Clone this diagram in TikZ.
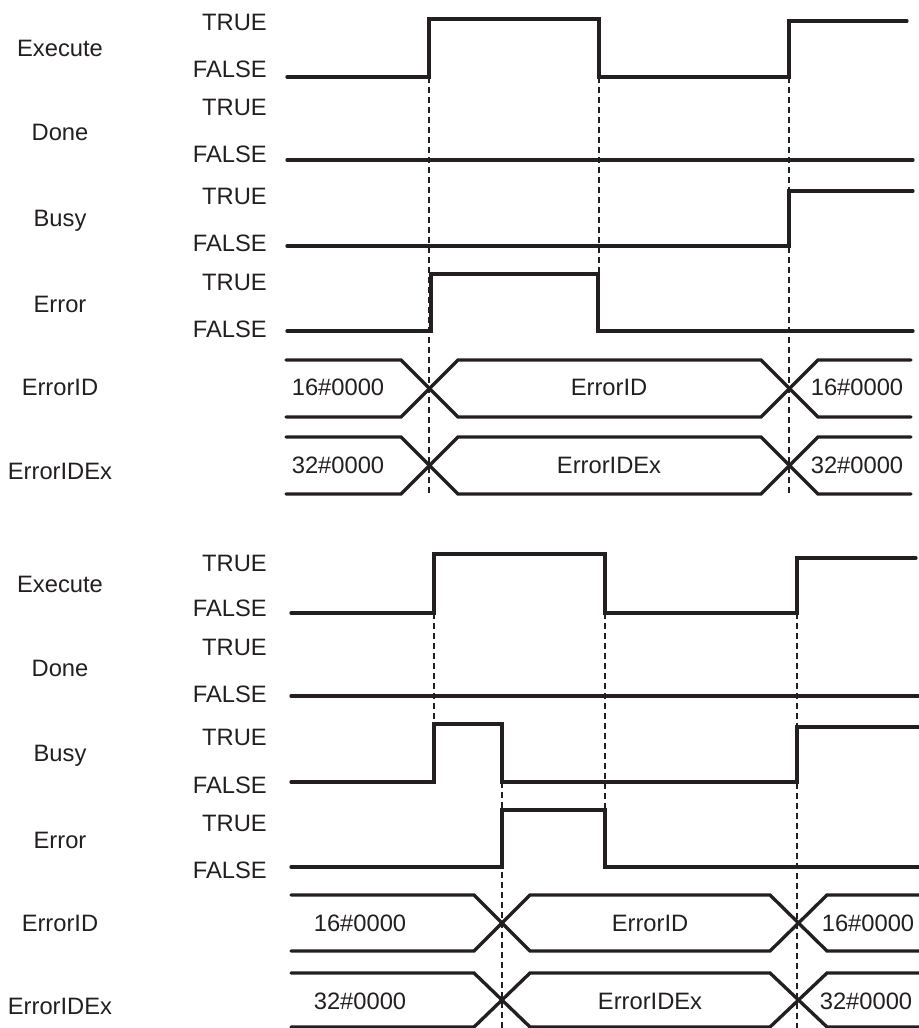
\documentclass[tikz,border=0pt]{standalone}
\usepackage{fontspec}
\setmainfont{Liberation Sans}
\definecolor{ink}{RGB}{35,31,32}
\begin{document}
\begin{tikzpicture}[x=0.75pt,y=-0.75pt,
    wave/.style={draw=ink,line width=2.5pt,line join=miter,line cap=round},
    guide/.style={draw=ink,line width=0.9pt,dash pattern=on 4.5pt off 3pt},
    lbl/.style={text=ink,font=\fontsize{17.8}{21}\selectfont,inner sep=0pt,text depth=0pt}]
\useasboundingbox (0,0) rectangle (919,1028);
% upper chart
\foreach \n/\t/\y in {exa/Execute/48,doa/Done/132,bua/Busy/218,era/Error/304,ida/ErrorID/387,xa/ErrorIDEx/471}
  \node[lbl] (\n) at (60,\y) {\t};
\foreach \i/\yt/\yf in {1/22/69,2/107/154,3/196/243,4/282/329}
  {\node[lbl,anchor=east] (ta\i) at (267,\yt) {TRUE};
   \node[lbl,anchor=east] (fa\i) at (267,\yf) {FALSE};}
\draw[wave] (287,77) -- (429,77) coordinate (ea1) -- (429,19) -- (599,19) -- (599,77) coordinate (ea2) -- (789,77) coordinate (ea3) -- (789,21) -- (907,21);
\draw[wave] (287,160) -- (913,160);
\draw[wave] (287,246) -- (789,246) -- (789,191) -- (913,191);
\draw[wave] (287,331) -- (431,331) -- (431,274) -- (598,274) coordinate (ra2) -- (598,331) -- (913,331);
\foreach \yt/\yb in {360/417,437/494}
  {\draw[wave] (286,\yt) -- (401,\yt) -- (458,\yb) -- (761,\yb) -- (818,\yt) -- (911,\yt);
   \draw[wave] (286,\yb) -- (401,\yb) -- (458,\yt) -- (761,\yt) -- (818,\yb) -- (911,\yb);}
\node[lbl] (ida1) at (338,387) {16\#0000};
\node[lbl] (ida2) at (609,387) {ErrorID};
\node[lbl] (ida3) at (857,387) {16\#0000};
\node[lbl] (xa1) at (338,465) {32\#0000};
\node[lbl] (xa2) at (609,465) {ErrorIDEx};
\node[lbl] (xa3) at (857,465) {32\#0000};
\coordinate (enda) at (0,494);
\draw[guide] (ea1) -- (ea1 |- enda);
\draw[guide] (ea2) -- (ea2 |- ra2);
\draw[guide] (ea3) -- (ea3 |- enda);
% lower chart
\foreach \n/\t/\y in {exb/Execute/584,dob/Done/668,bub/Busy/753,erb/Error/840,idb/ErrorID/923,xb/ErrorIDEx/1006}
  \node[lbl] (\n) at (60,\y) {\t};
\foreach \i/\yt/\yf in {1/563/608,2/647/694,3/737/785,4/823/870}
  {\node[lbl,anchor=east] (tb\i) at (267,\yt) {TRUE};
   \node[lbl,anchor=east] (fb\i) at (267,\yf) {FALSE};}
\draw[wave] (291,613) -- (434,613) coordinate (eb1) -- (434,554) -- (605,554) -- (605,613) coordinate (eb2) -- (797,613) coordinate (eb3) -- (797,558) -- (916,558);
\draw[wave] (291,696) -- (919,696);
\draw[wave] (291,782) -- (434,782) -- (434,724) coordinate (bb1) -- (502,724) -- (502,782) coordinate (bb2) -- (797,782) -- (797,727) -- (919,727);
\draw[wave] (291,867) -- (502,867) -- (502,810) -- (605,810) coordinate (rb2) -- (605,867) -- (919,867);
\foreach \yt/\yb in {895/951,973/1027}
  {\draw[wave] (291,\yt) -- (474,\yt) -- (530,\yb) -- (770,\yb) -- (827,\yt) -- (919,\yt);
   \draw[wave] (291,\yb) -- (474,\yb) -- (530,\yt) -- (770,\yt) -- (827,\yb) -- (919,\yb);}
\node[lbl] (idb1) at (360,923) {16\#0000};
\node[lbl] (idb2) at (650,923) {ErrorID};
\node[lbl] (idb3) at (868,923) {16\#0000};
\node[lbl] (xb1) at (360,1001) {32\#0000};
\node[lbl] (xb2) at (650,1001) {ErrorIDEx};
\node[lbl] (xb3) at (866,1001) {32\#0000};
\coordinate (endb) at (0,1028);
\draw[guide] (eb1) -- (bb1);
\draw[guide] (bb2) -- (bb2 |- endb);
\draw[guide] (eb2) -- (eb2 |- rb2);
\draw[guide] (eb3) -- (eb3 |- endb);
\end{tikzpicture}
\end{document}
